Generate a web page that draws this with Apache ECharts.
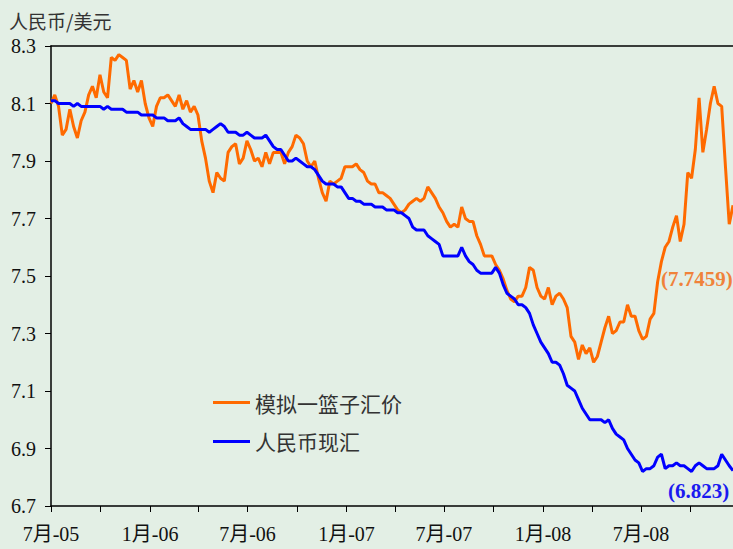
<!DOCTYPE html>
<html>
<head>
<meta charset="utf-8">
<script src="https://cdn.jsdelivr.net/npm/echarts@6/dist/echarts.min.js"></script>
<style>
  html, body { margin: 0; padding: 0; background: #e3efe5; }
  #main { width: 733px; height: 549px; }
</style>
</head>
<body>
<div id="main"></div>
<script>
// weekly samples from 2005-07-21
var orange = [
  8.10, 8.13, 8.09, 7.99, 8.01, 8.08, 8.02, 7.98, 8.04, 8.07,
  8.13, 8.16, 8.12, 8.20, 8.14, 8.12, 8.26, 8.25, 8.27, 8.26,
  8.25, 8.15, 8.18, 8.14, 8.18, 8.10, 8.05, 8.02, 8.09, 8.12,
  8.12, 8.13, 8.11, 8.09, 8.13, 8.08, 8.11, 8.07, 8.09, 8.06,
  7.97, 7.91, 7.83, 7.79, 7.86, 7.84, 7.83, 7.93, 7.95, 7.96,
  7.89, 7.91, 7.97, 7.94, 7.90, 7.91, 7.88, 7.93, 7.89, 7.93,
  7.93, 7.93, 7.89, 7.93, 7.95, 7.99, 7.98, 7.96, 7.90, 7.88,
  7.90, 7.84, 7.79, 7.76, 7.83, 7.82, 7.83, 7.84, 7.88, 7.88,
  7.88, 7.89, 7.87, 7.86, 7.83, 7.82, 7.82, 7.79, 7.79, 7.78,
  7.77, 7.75, 7.73, 7.72, 7.73, 7.75, 7.76, 7.77, 7.76, 7.77,
  7.81, 7.79, 7.77, 7.74, 7.72, 7.69, 7.67, 7.68, 7.67, 7.74,
  7.70, 7.69, 7.69, 7.64, 7.61, 7.57, 7.57, 7.57, 7.54, 7.52,
  7.49, 7.45, 7.42, 7.41, 7.43, 7.43, 7.46, 7.53, 7.52, 7.46,
  7.43, 7.42, 7.46, 7.40, 7.43, 7.44, 7.42, 7.39, 7.29, 7.27,
  7.21, 7.26, 7.23, 7.25, 7.20, 7.22, 7.27, 7.32, 7.36, 7.30,
  7.31, 7.34, 7.34, 7.40, 7.36, 7.36, 7.31, 7.28, 7.29, 7.35,
  7.37, 7.48, 7.55, 7.60, 7.62, 7.67, 7.71, 7.62, 7.68, 7.86,
  7.84, 7.94, 8.12, 7.93, 8.01, 8.10, 8.16, 8.10, 8.09, 7.88,
  7.68, 7.7459
];

var blue = [
  8.11, 8.11, 8.10, 8.10, 8.10, 8.10, 8.09, 8.10, 8.09, 8.09,
  8.09, 8.09, 8.09, 8.09, 8.08, 8.09, 8.08, 8.08, 8.08, 8.08,
  8.07, 8.07, 8.07, 8.07, 8.06, 8.06, 8.06, 8.06, 8.05, 8.05,
  8.05, 8.04, 8.04, 8.04, 8.05, 8.03, 8.02, 8.01, 8.01, 8.01,
  8.01, 8.01, 8.00, 8.01, 8.02, 8.03, 8.02, 8.00, 8.00, 8.00,
  7.99, 7.99, 8.00, 7.99, 7.98, 7.98, 7.98, 7.99, 7.97, 7.95,
  7.94, 7.94, 7.92, 7.90, 7.90, 7.91, 7.90, 7.89, 7.88, 7.88,
  7.87, 7.85, 7.83, 7.82, 7.82, 7.82, 7.81, 7.81, 7.79, 7.77,
  7.77, 7.76, 7.76, 7.75, 7.75, 7.75, 7.74, 7.74, 7.74, 7.73,
  7.73, 7.73, 7.72, 7.72, 7.71, 7.70, 7.67, 7.66, 7.66, 7.66,
  7.64, 7.63, 7.62, 7.61, 7.57, 7.57, 7.57, 7.57, 7.57, 7.60,
  7.57, 7.55, 7.54, 7.52, 7.51, 7.51, 7.51, 7.51, 7.53, 7.51,
  7.47, 7.44, 7.43, 7.42, 7.40, 7.40, 7.39, 7.37, 7.33, 7.30,
  7.27, 7.25, 7.23, 7.20, 7.20, 7.19, 7.16, 7.12, 7.11, 7.10,
  7.07, 7.04, 7.02, 7.00, 7.00, 7.00, 7.00, 6.99, 7.00, 6.97,
  6.95, 6.94, 6.93, 6.90, 6.88, 6.86, 6.85, 6.82, 6.83, 6.83,
  6.84, 6.87, 6.88, 6.83, 6.84, 6.84, 6.85, 6.84, 6.84, 6.83,
  6.82, 6.84, 6.85, 6.84, 6.83, 6.83, 6.83, 6.84, 6.88, 6.86,
  6.84, 6.823
];

var names = ['模拟一篮子汇价', '人民币现汇'];
var yTicks = [6.7, 6.9, 7.1, 7.3, 7.5, 7.7, 7.9, 8.1, 8.3];
var tickDates = ['2005-07-21', '2005-10-21', '2006-01-21', '2006-04-21', '2006-07-21',
  '2006-10-21', '2007-01-21', '2007-04-21', '2007-07-21', '2007-10-21',
  '2008-01-21', '2008-04-21', '2008-07-21', '2008-10-21'];
var labelDates = ['2005-07-21', '2006-01-21', '2006-07-21', '2007-01-21',
  '2007-07-21', '2008-01-21', '2008-07-21'];

var DAY = 86400000;
var start = Date.parse('2005-07-21');
function toDay(s) { return (Date.parse(s) - start) / DAY; }
function pairs(vals) {
  return vals.map(function (v, i) { return [i * 7, v]; });
}

var serif = "'Liberation Serif', 'Noto Sans CJK SC', serif";
var chart = echarts.init(document.getElementById('main'), null, { renderer: 'svg' });

var option = {
  backgroundColor: '#e3efe5',
  animation: false,
  title: {
    text: '人民币/美元',
    left: 9,
    top: 10,
    padding: 0,
    textStyle: { fontSize: 19, lineHeight: 20, fontWeight: 'normal', color: '#333', fontFamily: 'Noto Sans CJK SC' }
  },
  legend: {
    orient: 'vertical',
    left: 208,
    top: 387,
    itemWidth: 37,
    itemHeight: 3,
    itemGap: 18,
    icon: 'rect',
    data: names,
    textStyle: { fontSize: 21, color: '#333', fontFamily: 'Noto Sans CJK SC' }
  },
  grid: { left: 51, right: 0, top: 46, bottom: 43 },
  xAxis: [{
    type: 'value',
    min: 0,
    max: 1267,
    axisLine: { lineStyle: { color: '#000', width: 1.5 } },
    axisTick: { length: 6, lineStyle: { color: '#000' }, customValues: tickDates.map(toDay) },
    axisLabel: {
      customValues: labelDates.map(toDay),
      margin: 18,
      fontSize: 20,
      color: '#111',
      fontFamily: serif,
      formatter: function (v) {
        var d = new Date(start + v * DAY);
        return (d.getUTCMonth() + 1) + '月-' + String(d.getUTCFullYear()).slice(2);
      }
    },
    splitLine: { show: false }
  }, {
    type: 'value',
    position: 'top',
    min: 0,
    max: 1267,
    axisLine: { show: true, lineStyle: { color: '#000', width: 1.5 } },
    axisTick: { show: false },
    axisLabel: { show: false },
    splitLine: { show: false }
  }],
  yAxis: {
    type: 'value',
    min: 6.7,
    max: 8.3,
    axisLine: { show: true, lineStyle: { color: '#000', width: 1.5 } },
    axisTick: { show: true, length: 6, lineStyle: { color: '#000' }, customValues: yTicks },
    axisLabel: {
      customValues: yTicks,
      margin: 15,
      fontSize: 20,
      lineHeight: 18,
      color: '#111',
      fontFamily: serif,
      formatter: function (v) { return v.toFixed(1); }
    },
    splitLine: { show: false }
  },
  series: [{
    name: names[0],
    type: 'line',
    data: pairs(orange),
    showSymbol: false,
    itemStyle: { color: '#ff6a00' },
    lineStyle: { color: '#ff6a00', width: 3 }
  }, {
    name: names[1],
    type: 'line',
    data: pairs(blue),
    showSymbol: false,
    itemStyle: { color: '#0000ff' },
    lineStyle: { color: '#0000ff', width: 3 }
  }],
  graphic: [{
    type: 'text',
    left: 661,
    top: 268,
    style: {
      text: '(' + orange[orange.length - 1] + ')',
      fill: '#f0823a',
      font: "bold 21px 'Liberation Serif', serif"
    }
  }, {
    type: 'text',
    left: 668,
    top: 480,
    style: {
      text: '(' + blue[blue.length - 1] + ')',
      fill: '#1a1af0',
      font: "bold 21px 'Liberation Serif', serif"
    }
  }]
};

chart.setOption(option);
</script>
</body>
</html>
